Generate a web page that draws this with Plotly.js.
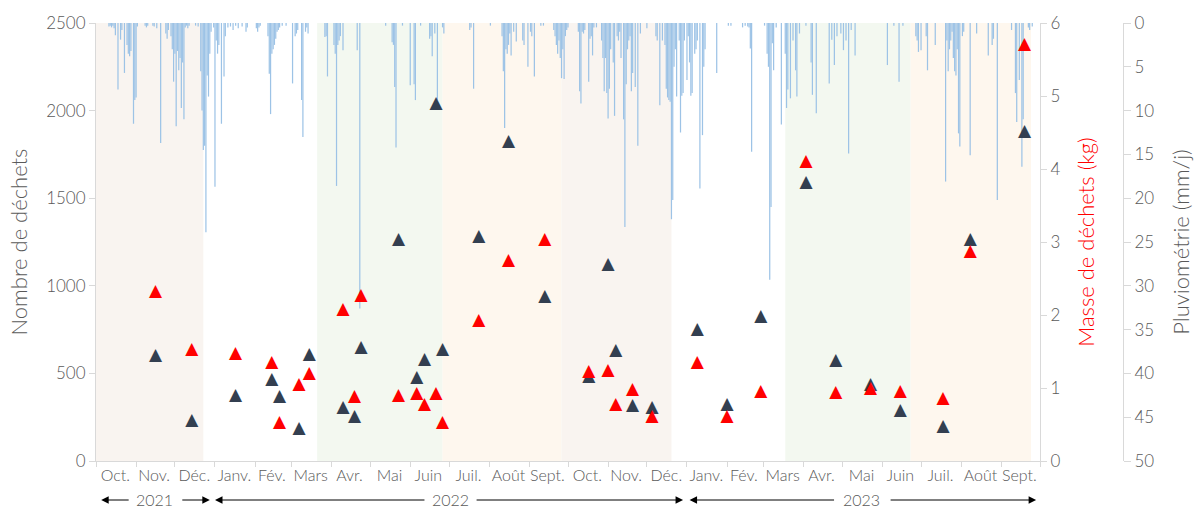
<!DOCTYPE html>
<html>
<head>
<meta charset="utf-8">
<script src="https://cdn.plot.ly/plotly-3.0.1.min.js"></script>
<style>
  html, body { margin: 0; padding: 0; background: #ffffff; }
  #chart { width: 1203px; height: 509px; }
</style>
</head>
<body>
<div id="chart"></div>
<script>
// ---------- DATA ----------
const sampleDates = ['2021-11-16','2021-12-14','2022-01-17','2022-02-14','2022-02-20','2022-03-07','2022-03-15',
  '2022-04-10','2022-04-19','2022-04-24','2022-05-23','2022-06-06','2022-06-12','2022-06-21','2022-06-26',
  '2022-07-24','2022-08-16','2022-09-13','2022-10-17','2022-11-01','2022-11-07','2022-11-20','2022-12-05',
  '2023-01-09','2023-02-01','2023-02-27','2023-04-03','2023-04-26','2023-05-23','2023-06-15','2023-07-18',
  '2023-08-08','2023-09-19'];
const wasteCount = [603,232,372,462,366,183,604,
  302,250,645,1261,474,576,2037,636,
  1280,1825,935,479,1119,628,314,303,
  748,320,822,1590,571,437,285,193,
  1261,1881];
const wasteMass = [2.32,1.53,1.47,1.35,0.53,1.05,1.20,
  2.07,0.88,2.26,0.89,0.92,0.77,0.92,0.52,
  1.92,2.75,3.03,1.22,1.23,0.77,0.97,0.61,
  1.34,0.61,0.95,4.10,0.94,0.99,0.95,0.85,
  2.86,5.70];

const rainDates = [
 '2021-10-11','2021-10-12','2021-10-13','2021-10-14','2021-10-15','2021-10-16','2021-10-18','2021-10-20','2021-10-21','2021-10-23',
 '2021-10-25','2021-10-26','2021-10-27','2021-10-28','2021-10-30','2021-10-31','2021-11-01','2021-11-02','2021-11-08','2021-11-09',
 '2021-11-10','2021-11-14','2021-11-15','2021-11-17','2021-11-20','2021-11-24','2021-11-25','2021-11-26','2021-11-28','2021-11-29',
 '2021-11-30','2021-12-01','2021-12-02','2021-12-03','2021-12-04','2021-12-05','2021-12-06','2021-12-07','2021-12-08','2021-12-09',
 '2021-12-10','2021-12-11','2021-12-12','2021-12-17','2021-12-19','2021-12-21','2021-12-22','2021-12-23','2021-12-24','2021-12-25',
 '2021-12-26','2021-12-27','2021-12-28','2021-12-29','2021-12-31','2022-01-01','2022-01-02','2022-01-03','2022-01-04','2022-01-06',
 '2022-01-08','2022-01-09','2022-01-11','2022-01-13','2022-01-15','2022-01-17','2022-01-19','2022-01-22','2022-01-25','2022-01-26',
 '2022-02-02','2022-02-03','2022-02-04','2022-02-05','2022-02-11','2022-02-12','2022-02-13','2022-02-14','2022-02-15','2022-02-16',
 '2022-02-17','2022-02-18','2022-02-19','2022-02-20','2022-02-22','2022-02-25','2022-03-02','2022-03-04','2022-03-05','2022-03-06',
 '2022-03-09','2022-03-10','2022-03-12','2022-03-13','2022-03-14','2022-03-27','2022-03-28','2022-03-29','2022-04-03','2022-04-04',
 '2022-04-05','2022-04-06','2022-04-07','2022-04-08','2022-04-10','2022-04-21','2022-04-23','2022-05-13','2022-05-18','2022-05-19',
 '2022-05-20','2022-05-21','2022-05-26','2022-06-01','2022-06-04','2022-06-05','2022-06-09','2022-06-16','2022-06-17','2022-06-18',
 '2022-06-20','2022-06-22','2022-06-26','2022-06-27','2022-07-17','2022-07-18','2022-07-20','2022-08-02','2022-08-11','2022-08-12',
 '2022-08-13','2022-08-14','2022-08-15','2022-08-16','2022-08-17','2022-08-18','2022-08-20','2022-08-22','2022-08-27','2022-08-28',
 '2022-08-31','2022-09-02','2022-09-03','2022-09-05','2022-09-10','2022-09-12','2022-09-20','2022-09-21','2022-09-22','2022-09-23',
 '2022-09-24','2022-09-25','2022-09-26','2022-09-27','2022-09-28','2022-09-29','2022-09-30','2022-10-01','2022-10-09','2022-10-10',
 '2022-10-11','2022-10-12','2022-10-13','2022-10-14','2022-10-17','2022-10-18','2022-10-19','2022-10-20','2022-10-21','2022-10-23',
 '2022-10-27','2022-10-28','2022-10-29','2022-10-30','2022-10-31','2022-11-01','2022-11-02','2022-11-03','2022-11-05','2022-11-06',
 '2022-11-08','2022-11-09','2022-11-10','2022-11-11','2022-11-13','2022-11-14','2022-11-15','2022-11-16','2022-11-17','2022-11-18',
 '2022-11-19','2022-11-20','2022-11-22','2022-11-24','2022-11-26','2022-12-01','2022-12-08','2022-12-09','2022-12-11','2022-12-13',
 '2022-12-15','2022-12-16','2022-12-17','2022-12-18','2022-12-19','2022-12-20','2022-12-21','2022-12-22','2022-12-23','2022-12-24',
 '2022-12-26','2022-12-27','2022-12-28','2022-12-29','2022-12-30','2023-01-01','2023-01-02','2023-01-03','2023-01-04','2023-01-05',
 '2023-01-07','2023-01-08','2023-01-09','2023-01-11','2023-01-13','2023-01-14','2023-01-15','2023-01-24','2023-02-02','2023-02-04',
 '2023-02-13','2023-02-15','2023-02-17','2023-02-18','2023-02-19','2023-02-20','2023-03-02','2023-03-04','2023-03-05','2023-03-06',
 '2023-03-07','2023-03-08','2023-03-09','2023-03-11','2023-03-15','2023-03-18','2023-03-19','2023-03-20','2023-03-22','2023-03-24',
 '2023-03-26','2023-03-27','2023-03-29','2023-04-03','2023-04-07','2023-04-08','2023-04-11','2023-04-21','2023-04-23','2023-04-25',
 '2023-04-27','2023-04-30','2023-05-02','2023-05-04','2023-05-06','2023-05-08','2023-05-11','2023-06-05','2023-06-10','2023-06-14',
 '2023-06-17','2023-06-27','2023-06-28','2023-06-29','2023-07-01','2023-07-05','2023-07-06','2023-07-12','2023-07-20','2023-07-21',
 '2023-07-22','2023-07-23','2023-07-24','2023-07-25','2023-07-26','2023-07-27','2023-07-28','2023-07-29','2023-07-30','2023-07-31',
 '2023-08-02','2023-08-03','2023-08-08','2023-08-13','2023-08-22','2023-08-25','2023-08-26','2023-08-29','2023-09-09','2023-09-12',
 '2023-09-13','2023-09-15','2023-09-17','2023-09-18','2023-09-22','2023-09-23','2023-09-25'];
const rainMm = [
 0.4,0.3,0.5,0.3,0.6,1.4,7.6,1.9,0.8,5.7,
 2.5,3.5,3.8,3.2,11.5,8.8,8.5,0.4,0.3,0.5,
 0.3,0.3,0.4,0.6,13.7,1.2,1.8,0.8,1.5,3.0,
 6.7,3.5,11.8,3.2,5.4,4.0,9.7,4.5,11.0,0.5,
 0.3,0.6,0.3,0.3,0.4,5.5,10.0,14.5,14.0,23.9,
 6.0,8.4,3.5,1.0,0.5,18.7,2.0,3.5,2.5,11.5,
 6.1,1.5,0.5,0.4,0.8,0.3,0.6,0.4,1.0,0.5,
 0.6,1.0,0.5,0.3,1.5,5.8,10.4,3.5,3.0,2.5,
 1.8,1.0,0.8,0.5,0.3,0.3,6.9,1.5,1.2,0.8,
 8.8,13.0,1.0,0.5,1.2,1.6,1.5,6.1,2.5,3.5,
 18.6,2.5,2.0,1.5,3.1,3.1,32.6,0.3,2.2,2.5,
 7.3,14.2,0.3,7.1,7.0,8.8,0.3,1.8,1.5,3.8,
 1.2,8.8,0.5,1.2,0.8,0.5,7.5,0.3,1.5,5.5,
 12.0,3.0,3.5,2.5,1.2,3.7,1.0,2.1,2.0,2.5,
 5.0,1.0,1.5,6.1,0.3,0.3,0.8,1.5,2.5,3.5,
 2.0,4.0,6.3,3.0,6.4,1.5,0.8,0.5,1.0,7.8,
 9.2,1.0,1.2,0.8,6.7,1.8,1.5,3.7,0.5,0.5,
 2.0,4.0,7.8,4.0,8.0,10.9,7.5,3.0,4.5,10.6,
 1.5,2.0,1.0,4.0,11.0,23.3,7.0,3.0,2.0,1.5,
 7.8,5.7,7.3,14.0,1.2,0.6,1.5,2.0,9.4,2.0,
 2.5,7.5,8.5,8.8,9.0,22.4,20.2,5.0,3.0,8.4,
 2.0,12.5,8.3,8.0,2.0,6.5,1.5,4.5,8.3,8.0,
 3.5,3.0,2.0,18.9,12.8,5.0,3.0,5.7,0.3,0.3,
 0.5,0.3,0.4,0.5,2.9,14.7,0.3,3.5,5.0,29.3,
 21.0,2.3,5.4,0.5,11.6,3.5,9.7,7.6,8.6,2.0,
 5.4,8.4,1.2,0.3,4.5,8.2,10.3,6.9,1.9,4.8,
 1.5,1.2,3.1,2.0,14.9,0.8,3.7,4.8,0.3,6.7,
 0.3,1.5,2.0,3.3,3.1,1.5,5.4,2.5,18.1,2.0,
 5.5,3.0,2.0,1.0,4.0,5.5,6.0,3.0,12.6,14.1,
 1.5,1.0,15.1,1.2,3.7,2.5,1.8,20.2,0.8,8.0,
 11.3,6.5,16.4,11.0,0.5,0.8,0.4];

// x-axis month labels (mid-month positions) and year bands
const monthMid = ['2021-10-16','2021-11-15','2021-12-16','2022-01-16','2022-02-14','2022-03-16','2022-04-15','2022-05-16',
  '2022-06-15','2022-07-16','2022-08-16','2022-09-15','2022-10-16','2022-11-15','2022-12-16','2023-01-16','2023-02-14',
  '2023-03-16','2023-04-15','2023-05-16','2023-06-15','2023-07-16','2023-08-16','2023-09-15'];
const monthLabels = ['Oct.','Nov.','Déc.','Janv.','Fév.','Mars','Avr.','Mai','Juin','Juil.','Août','Sept.',
  'Oct.','Nov.','Déc.','Janv.','Fév.','Mars','Avr.','Mai','Juin','Juil.','Août','Sept.'];
const years = ['2021','2022','2023'];
const yearMid = ['2021-11-15','2022-07-02','2023-05-16'];
const yearArrowStart = ['2021-10-05','2022-01-01','2023-01-03'];
const yearArrowEnd = ['2021-12-28','2022-12-29','2023-09-28'];

// seasons (background bands)
const seasonNames = ['automne','printemps','ete','automne','printemps','ete'];
const seasonStart = ['2021-10-01','2022-03-21','2022-06-26','2022-09-26','2023-03-18','2023-06-23'];
const seasonEnd   = ['2021-12-23','2022-06-26','2022-09-26','2022-12-20','2023-06-23','2023-09-24'];

// ---------- STYLE ----------
const seasonColor = {automne:'#F9F4F0', printemps:'#F3F8F0', ete:'#FEF7EE'};
const FONT = 'Lato, "Noto Sans", sans-serif';
const GREY = '#595959';
const AXLINE = '#D9D9D9';

const W = 1203, H = 509;
const ML = 96, MR = 40, MT = 23, MB = 48;
const plotW = W - ML - MR;
const xDomEnd = 944 / plotW;
const rainPos = (1123 - ML) / plotW;

const triFont = (c) => ({family:'"DejaVu Sans", sans-serif', size:17, color:c});

const traces = [
  {type:'bar', x: rainDates, y: rainMm, xaxis:'x', yaxis:'y',
   marker:{color:'#9DC3E6', line:{width:0}}, hoverinfo:'skip', showlegend:false},
  {type:'scatter', mode:'text', x: sampleDates, y: wasteCount, xaxis:'x', yaxis:'y2',
   text: wasteCount.map(() => '▲'), textposition:'middle center', textfont: triFont('#333F50'), showlegend:false},
  {type:'scatter', mode:'text', x: sampleDates, y: wasteMass, xaxis:'x', yaxis:'y3',
   text: wasteMass.map(() => '▲'), textposition:'middle center', textfont: triFont('#FF0000'), showlegend:false}
];

const shapes = seasonNames.map((s, i) => ({
  type:'rect', xref:'x', yref:'paper', x0: seasonStart[i], x1: seasonEnd[i], y0:0, y1:1,
  fillcolor: seasonColor[s], line:{width:0}, layer:'below'
}));

const annotations = [];
const arrowY = (461 - 500) / 438;
years.forEach((yr, i) => {
  annotations.push({xref:'x', yref:'paper', x: yearMid[i], y: arrowY, text: yr, showarrow:false,
    font:{family:FONT, size:16, color:GREY, weight:300}, xanchor:'center', yanchor:'middle'});
});
const tailOffsets = [[29,-29],[211,-208],[146,-147]];
years.forEach((yr, i) => {
  annotations.push({xref:'x', yref:'paper', x: yearArrowStart[i], y: arrowY, text:'', showarrow:true,
    ax: tailOffsets[i][0], ay:0, arrowhead:2, arrowsize:1.5, arrowwidth:1, arrowcolor:'#000000'});
  annotations.push({xref:'x', yref:'paper', x: yearArrowEnd[i], y: arrowY, text:'', showarrow:true,
    ax: tailOffsets[i][1], ay:0, arrowhead:2, arrowsize:1.5, arrowwidth:1, arrowcolor:'#000000'});
});

const tickFont = {family:FONT, size:17, color:GREY, weight:300};
const titleFont = (c) => ({family:FONT, size:22, color:c, weight:300});

const layout = {
  width: W, height: H,
  margin:{l:ML, r:MR, t:MT, b:MB, pad:0},
  paper_bgcolor:'#ffffff', plot_bgcolor:'rgba(0,0,0,0)',
  font:{family:FONT, color:GREY},
  showlegend:false, hovermode:false,
  bargap:0.05,
  xaxis:{
    type:'date', domain:[0, xDomEnd], range:['2021-10-01','2023-10-01'],
    tickmode:'array', tickvals: monthMid, ticktext: monthLabels, ticks:'',
    tickfont:{family:FONT, size:16, color:GREY, weight:300},
    showline:true, linecolor:AXLINE, linewidth:1, showgrid:false, zeroline:false,
    minor:{ticks:'outside', ticklen:5, tickwidth:1, tickcolor:AXLINE, dtick:'M1', tick0:'2021-10-01', showgrid:false},
    automargin:false, fixedrange:true
  },
  yaxis:{
    range:[50, 0], side:'right', anchor:'free', position: rainPos,
    tickmode:'linear', tick0:0, dtick:5, ticks:'outside', ticklen:7, tickcolor:AXLINE,
    showline:true, linecolor:AXLINE, showgrid:false, zeroline:false,
    tickfont: tickFont,
    title:{text:'Pluviométrie (mm/j)', font: titleFont(GREY), standoff:20},
    automargin:false, fixedrange:true
  },
  yaxis2:{
    overlaying:'y', side:'left', anchor:'x', range:[0, 2500],
    tickmode:'linear', tick0:0, dtick:500, ticks:'outside', ticklen:6, tickcolor:AXLINE,
    showline:true, linecolor:AXLINE, showgrid:false, zeroline:false,
    tickfont: tickFont,
    title:{text:'Nombre de déchets', font: titleFont(GREY), standoff:12},
    automargin:false, fixedrange:true
  },
  yaxis3:{
    overlaying:'y', side:'right', anchor:'x', range:[0, 6],
    tickmode:'linear', tick0:0, dtick:1, ticks:'outside', ticklen:6, tickcolor:AXLINE,
    showline:true, linecolor:AXLINE, showgrid:false, zeroline:false,
    tickfont: tickFont,
    title:{text:'Masse de déchets (kg)', font: titleFont('#FF0000'), standoff:19},
    automargin:false, fixedrange:true
  },
  shapes: shapes,
  annotations: annotations
};

Plotly.newPlot('chart', traces, layout, {staticPlot:true, displayModeBar:false});
</script>
</body>
</html>
